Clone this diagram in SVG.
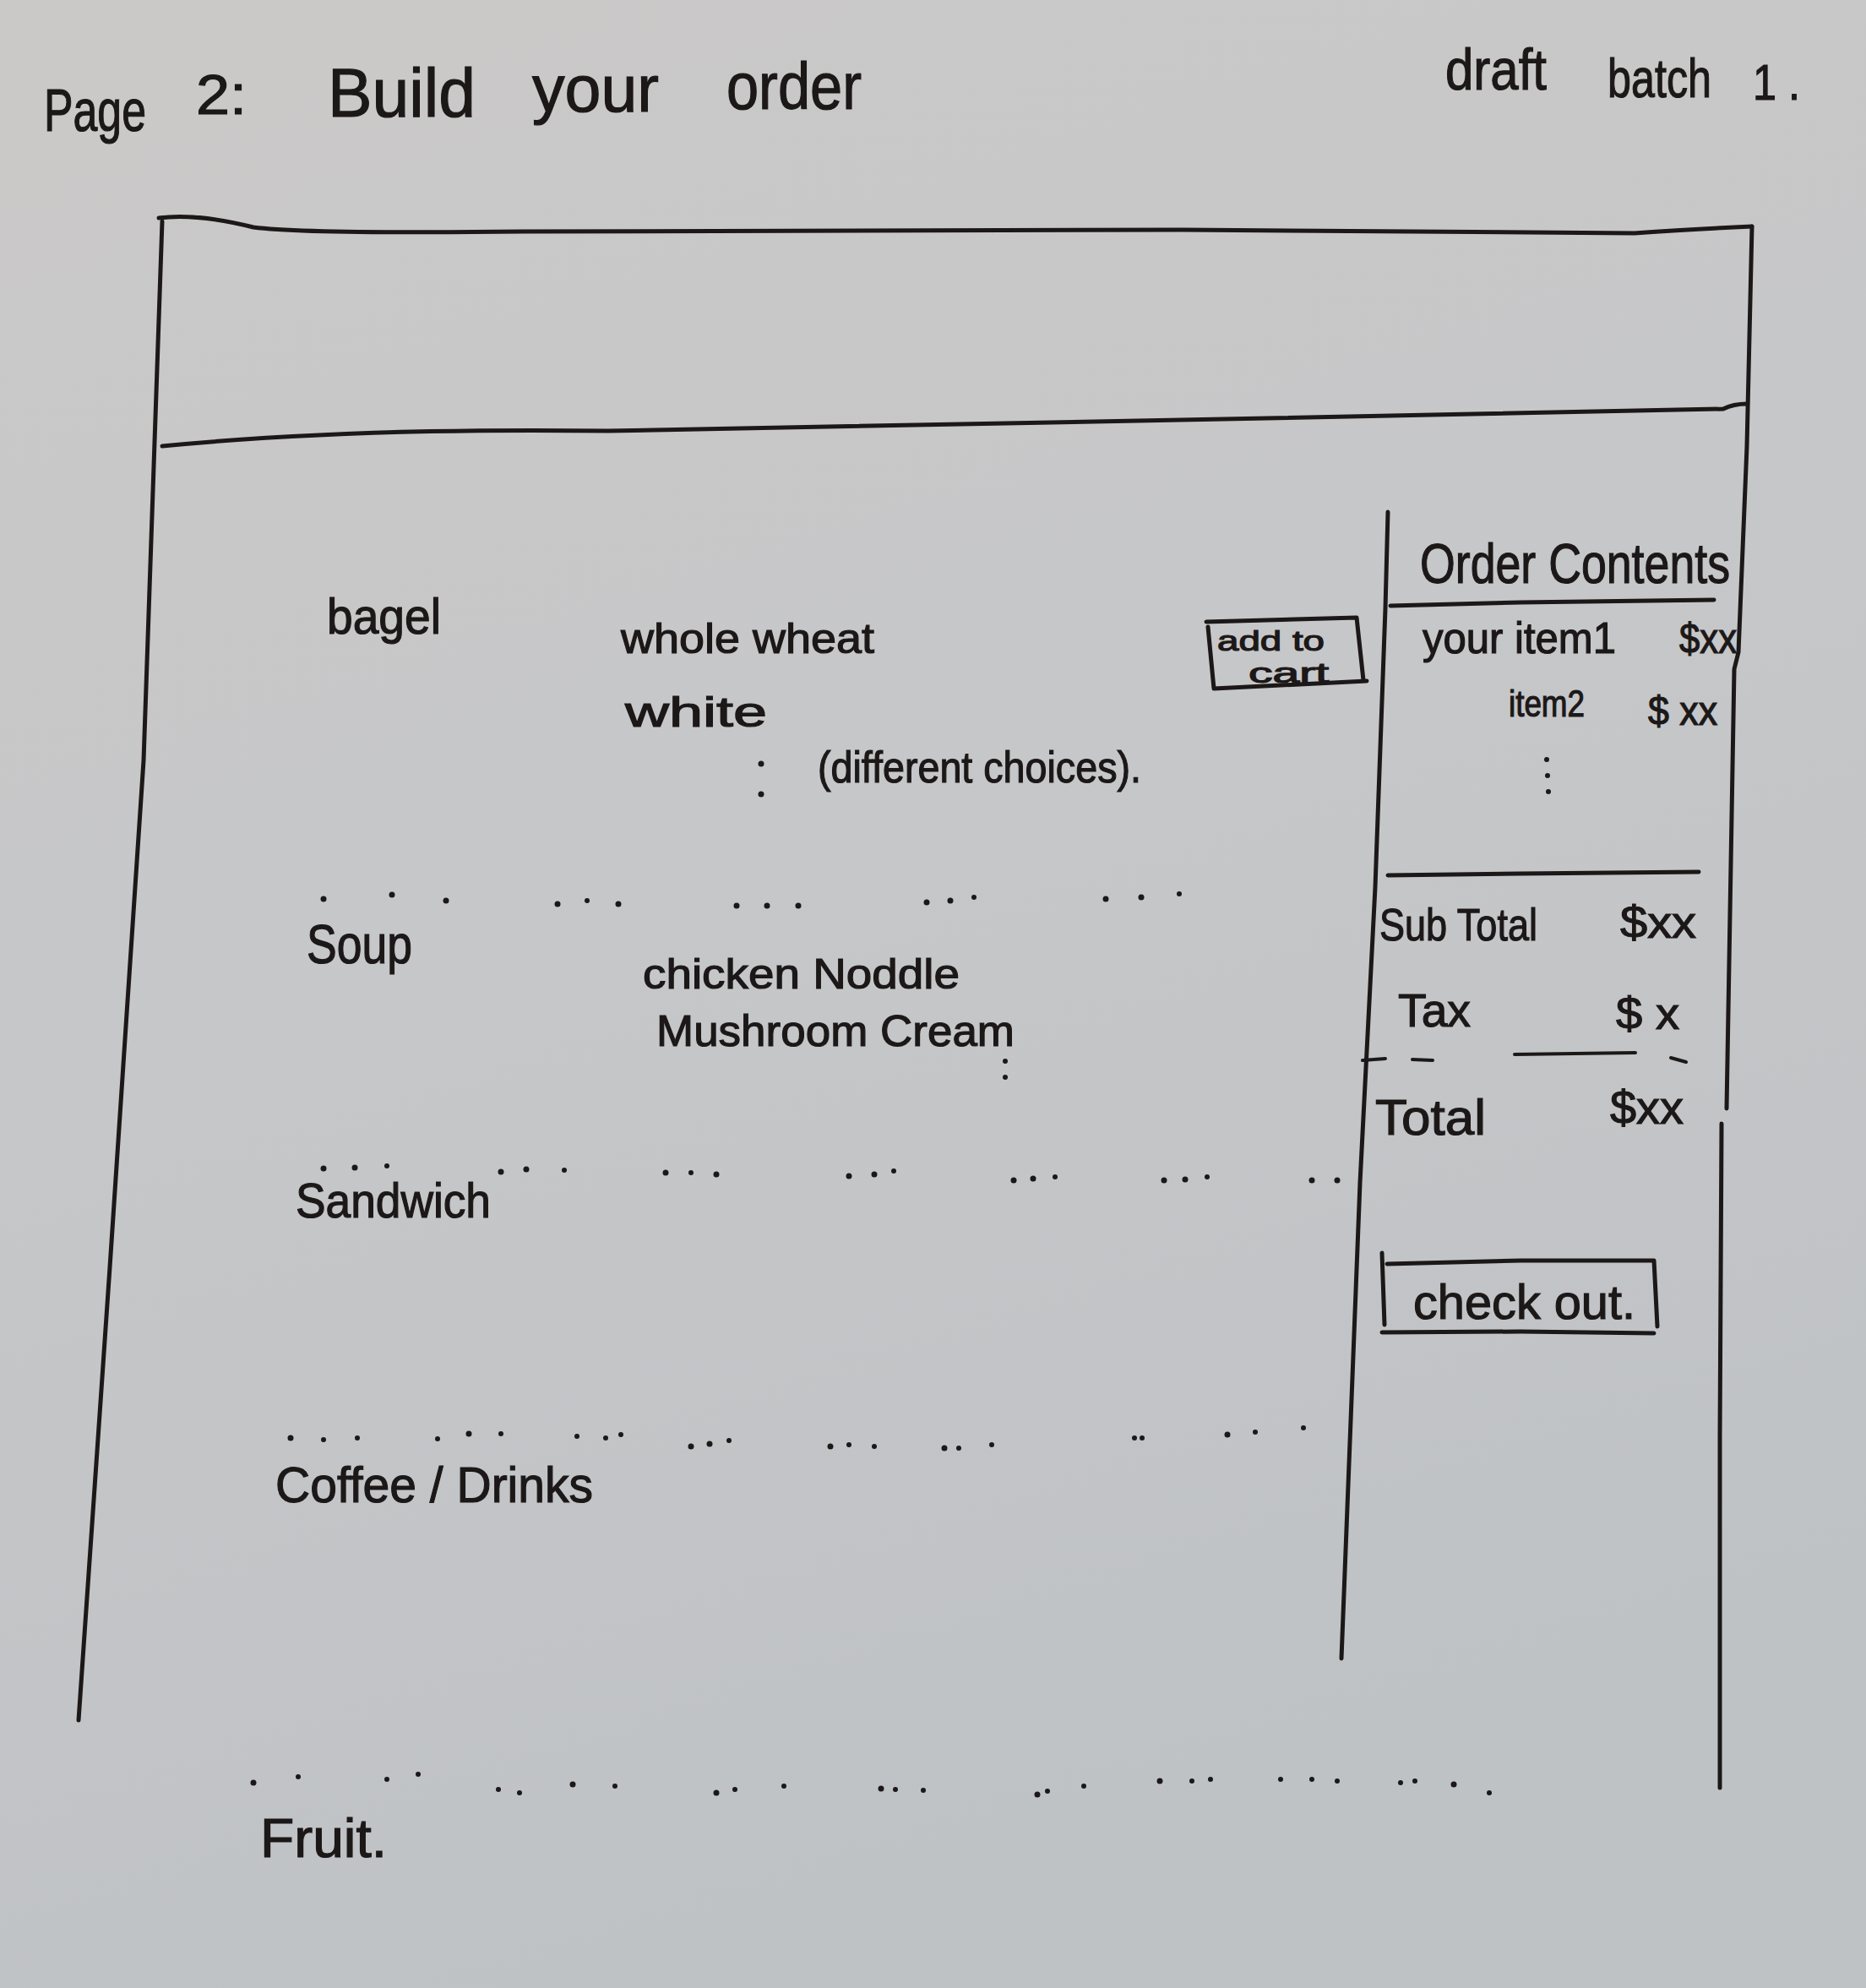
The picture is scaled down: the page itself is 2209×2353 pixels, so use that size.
<svg xmlns="http://www.w3.org/2000/svg" width="2209" height="2353" viewBox="0 0 2209 2353">
  <defs>
    <linearGradient id="paper" x1="0" y1="0" x2="0.3" y2="1">
      <stop offset="0" stop-color="#cbc9c8"/>
      <stop offset="0.5" stop-color="#c6c7c9"/>
      <stop offset="1" stop-color="#bfc2c5"/>
    </linearGradient>
    <style>
      .ink { fill: none; stroke: #1c1818; stroke-width: 5; stroke-linecap: round; stroke-linejoin: round; }
      .thin { stroke-width: 4; }
      .hand { font-family: "Liberation Sans", "DejaVu Sans", sans-serif; fill: #1c1818; stroke: #1c1818; stroke-width: 1.2; }
      .dot { fill: #1c1818; }
    </style>
  </defs>

  <!-- paper -->
  <rect x="0" y="0" width="2209" height="2353" fill="url(#paper)"/>

  <!-- page heading -->
  <g id="title">
    <text class="hand" x="52" y="155" font-size="70" textLength="121" lengthAdjust="spacingAndGlyphs">Page</text>
    <text class="hand" x="232" y="135" font-size="66" textLength="60" lengthAdjust="spacingAndGlyphs">2:</text>
    <text class="hand" x="388" y="138" font-size="82" textLength="175" lengthAdjust="spacingAndGlyphs">Build</text>
    <text class="hand" x="630" y="132" font-size="78" textLength="150" lengthAdjust="spacingAndGlyphs">your</text>
    <text class="hand" x="860" y="129" font-size="78" textLength="160" lengthAdjust="spacingAndGlyphs">order</text>
  </g>

  <g id="version-note">
    <text class="hand" x="1711" y="106" font-size="68" textLength="120" lengthAdjust="spacingAndGlyphs">draft</text>
    <text class="hand" x="1903" y="115" font-size="64" textLength="123" lengthAdjust="spacingAndGlyphs">batch</text>
    <text class="hand" x="2075" y="118" font-size="60" textLength="56" lengthAdjust="spacingAndGlyphs">1 .</text>
  </g>

  <!-- browser window outline with header bar -->
  <g id="page-frame">
    <path class="ink" d="M188,258 Q232,252 300,269 Q360,277 620,274 L1400,272 L1935,276 Q1990,272 2074,268"/>
    <path class="ink" d="M192,262 L170,900 L130,1500 L93,2036"/>
    <path class="ink" d="M2074,268 L2068,528 L2058,772 L2053,792 L2044,1312"/>
    <path class="ink" d="M2038,1330 L2036,1700 L2036,2116"/>
  </g>

  <g id="header-bar">
    <path class="ink" d="M192,528 Q420,506 720,510 L1500,495 L2040,484 Q2052,478 2068,478"/>
  </g>

  <!-- menu column -->
  <g id="menu-bagel">
    <text class="hand" x="387" y="750" font-size="60" textLength="135" lengthAdjust="spacingAndGlyphs">bagel</text>
    <text class="hand" x="735" y="773" font-size="50" textLength="300" lengthAdjust="spacingAndGlyphs">whole wheat</text>
    <text class="hand" x="740" y="860" font-size="50" textLength="168" lengthAdjust="spacingAndGlyphs">white</text>
    <circle class="dot" cx="901" cy="904" r="3.5"/>
    <circle class="dot" cx="901" cy="940" r="3.5"/>
    <text class="hand" x="968" y="926" font-size="52" textLength="383" lengthAdjust="spacingAndGlyphs">(different choices).</text>
  </g>

  <g id="add-to-cart">
    <path class="ink" d="M1428,736 L1606,731 L1614,805"/>
    <path class="ink" d="M1430,742 L1437,815 L1618,806"/>
    <text class="hand" x="1441" y="770" font-size="34" textLength="127" lengthAdjust="spacingAndGlyphs">add to</text>
    <text class="hand" x="1478" y="808" font-size="34" textLength="95" lengthAdjust="spacingAndGlyphs">cart</text>
  </g>

  <g id="divider-1">
    <circle class="dot" cx="383" cy="1064" r="3.5"/>
    <circle class="dot" cx="464" cy="1059" r="3.5"/>
    <circle class="dot" cx="528" cy="1066" r="3.5"/>
    <circle class="dot" cx="660" cy="1070" r="3.5"/>
    <circle class="dot" cx="695" cy="1066" r="3"/>
    <circle class="dot" cx="732" cy="1070" r="3.5"/>
    <circle class="dot" cx="872" cy="1072" r="3.5"/>
    <circle class="dot" cx="908" cy="1072" r="3.5"/>
    <circle class="dot" cx="945" cy="1072" r="3.5"/>
    <circle class="dot" cx="1097" cy="1068" r="3.5"/>
    <circle class="dot" cx="1125" cy="1066" r="3.5"/>
    <circle class="dot" cx="1153" cy="1062" r="3"/>
    <circle class="dot" cx="1309" cy="1064" r="3.5"/>
    <circle class="dot" cx="1351" cy="1062" r="3.5"/>
    <circle class="dot" cx="1396" cy="1058" r="3"/>
  </g>

  <g id="menu-soup">
    <text class="hand" x="363" y="1140" font-size="64" textLength="125" lengthAdjust="spacingAndGlyphs">Soup</text>
    <text class="hand" x="761" y="1170" font-size="50" textLength="375" lengthAdjust="spacingAndGlyphs">chicken Noddle</text>
    <text class="hand" x="777" y="1238" font-size="52" textLength="424" lengthAdjust="spacingAndGlyphs">Mushroom Cream</text>
    <circle class="dot" cx="1190" cy="1256" r="3"/>
    <circle class="dot" cx="1190" cy="1275" r="3"/>
  </g>

  <g id="divider-2">
    <circle class="dot" cx="383" cy="1383" r="3.5"/>
    <circle class="dot" cx="420" cy="1382" r="3.5"/>
    <circle class="dot" cx="458" cy="1380" r="3"/>
    <circle class="dot" cx="593" cy="1387" r="3.5"/>
    <circle class="dot" cx="623" cy="1384" r="3.5"/>
    <circle class="dot" cx="668" cy="1385" r="3"/>
    <circle class="dot" cx="788" cy="1388" r="3.5"/>
    <circle class="dot" cx="818" cy="1388" r="3"/>
    <circle class="dot" cx="848" cy="1390" r="3.5"/>
    <circle class="dot" cx="1005" cy="1392" r="3.5"/>
    <circle class="dot" cx="1035" cy="1390" r="3.5"/>
    <circle class="dot" cx="1058" cy="1386" r="3"/>
    <circle class="dot" cx="1200" cy="1397" r="3.5"/>
    <circle class="dot" cx="1223" cy="1395" r="3.5"/>
    <circle class="dot" cx="1249" cy="1393" r="3"/>
    <circle class="dot" cx="1378" cy="1397" r="3.5"/>
    <circle class="dot" cx="1403" cy="1396" r="3.5"/>
    <circle class="dot" cx="1429" cy="1393" r="3"/>
    <circle class="dot" cx="1553" cy="1397" r="3.5"/>
    <circle class="dot" cx="1583" cy="1397" r="3.5"/>
  </g>

  <g id="menu-sandwich">
    <text class="hand" x="350" y="1441" font-size="58" textLength="231" lengthAdjust="spacingAndGlyphs">Sandwich</text>
  </g>

  <g id="divider-3">
    <circle class="dot" cx="344" cy="1702" r="3.5"/>
    <circle class="dot" cx="383" cy="1704" r="3"/>
    <circle class="dot" cx="423" cy="1702" r="3"/>
    <circle class="dot" cx="518" cy="1703" r="3"/>
    <circle class="dot" cx="555" cy="1697" r="3.5"/>
    <circle class="dot" cx="593" cy="1697" r="3"/>
    <circle class="dot" cx="683" cy="1700" r="3"/>
    <circle class="dot" cx="717" cy="1702" r="3"/>
    <circle class="dot" cx="735" cy="1698" r="3"/>
    <circle class="dot" cx="818" cy="1712" r="3.5"/>
    <circle class="dot" cx="840" cy="1709" r="3.5"/>
    <circle class="dot" cx="863" cy="1705" r="3"/>
    <circle class="dot" cx="983" cy="1712" r="3.5"/>
    <circle class="dot" cx="1005" cy="1710" r="3"/>
    <circle class="dot" cx="1035" cy="1712" r="3"/>
    <circle class="dot" cx="1118" cy="1714" r="3.5"/>
    <circle class="dot" cx="1135" cy="1714" r="3"/>
    <circle class="dot" cx="1174" cy="1710" r="3"/>
    <circle class="dot" cx="1343" cy="1702" r="3"/>
    <circle class="dot" cx="1352" cy="1702" r="3"/>
    <circle class="dot" cx="1453" cy="1698" r="3.5"/>
    <circle class="dot" cx="1486" cy="1695" r="3"/>
    <circle class="dot" cx="1543" cy="1690" r="3"/>
  </g>

  <g id="menu-coffee">
    <text class="hand" x="326" y="1778" font-size="60" textLength="376" lengthAdjust="spacingAndGlyphs">Coffee / Drinks</text>
  </g>

  <g id="divider-4">
    <circle class="dot" cx="300" cy="2110" r="3.5"/>
    <circle class="dot" cx="353" cy="2103" r="3"/>
    <circle class="dot" cx="458" cy="2106" r="3"/>
    <circle class="dot" cx="495" cy="2100" r="3"/>
    <circle class="dot" cx="590" cy="2118" r="3"/>
    <circle class="dot" cx="615" cy="2122" r="3"/>
    <circle class="dot" cx="678" cy="2112" r="3.5"/>
    <circle class="dot" cx="728" cy="2114" r="3"/>
    <circle class="dot" cx="848" cy="2122" r="3.5"/>
    <circle class="dot" cx="870" cy="2118" r="3"/>
    <circle class="dot" cx="928" cy="2114" r="3"/>
    <circle class="dot" cx="1043" cy="2117" r="3.5"/>
    <circle class="dot" cx="1060" cy="2118" r="3"/>
    <circle class="dot" cx="1093" cy="2119" r="3"/>
    <circle class="dot" cx="1228" cy="2124" r="3.5"/>
    <circle class="dot" cx="1240" cy="2120" r="3"/>
    <circle class="dot" cx="1283" cy="2114" r="3"/>
    <circle class="dot" cx="1373" cy="2108" r="3.5"/>
    <circle class="dot" cx="1411" cy="2108" r="3"/>
    <circle class="dot" cx="1433" cy="2106" r="3"/>
    <circle class="dot" cx="1516" cy="2106" r="3"/>
    <circle class="dot" cx="1553" cy="2106" r="3"/>
    <circle class="dot" cx="1583" cy="2108" r="3"/>
    <circle class="dot" cx="1658" cy="2110" r="3"/>
    <circle class="dot" cx="1675" cy="2108" r="3"/>
    <circle class="dot" cx="1721" cy="2112" r="3.5"/>
    <circle class="dot" cx="1763" cy="2122" r="3"/>
  </g>

  <g id="menu-fruit">
    <text class="hand" x="308" y="2198" font-size="64" textLength="150" lengthAdjust="spacingAndGlyphs">Fruit.</text>
  </g>

  <!-- order summary side panel -->
  <g id="order-panel">
    <path class="ink" d="M1643,606 L1640,720 L1628,1050 L1610,1400 L1588,1963"/>
    <text class="hand" x="1681" y="690" font-size="66" textLength="367" lengthAdjust="spacingAndGlyphs">Order Contents</text>
    <path class="ink" d="M1646,717 L1800,713 L2029,710"/>
    <text class="hand" x="1684" y="773" font-size="52" textLength="229" lengthAdjust="spacingAndGlyphs">your item1</text>
    <text class="hand" x="1988" y="773" font-size="50" textLength="68" lengthAdjust="spacingAndGlyphs">$xx</text>
    <text class="hand" x="1786" y="848" font-size="44" textLength="90" lengthAdjust="spacingAndGlyphs">item2</text>
    <text class="hand" x="1951" y="858" font-size="48" textLength="82" lengthAdjust="spacingAndGlyphs">$ xx</text>
    <circle class="dot" cx="1831" cy="899" r="3"/>
    <circle class="dot" cx="1832" cy="918" r="3"/>
    <circle class="dot" cx="1833" cy="937" r="3"/>
    <path class="ink" d="M1643,1036 L1800,1034 L2011,1032"/>
    <text class="hand" x="1633" y="1113" font-size="54" textLength="187" lengthAdjust="spacingAndGlyphs">Sub Total</text>
    <text class="hand" x="1918" y="1110" font-size="54" textLength="90" lengthAdjust="spacingAndGlyphs">$xx</text>
    <text class="hand" x="1655" y="1215" font-size="56" textLength="86" lengthAdjust="spacingAndGlyphs">Tax</text>
    <text class="hand" x="1913" y="1218" font-size="54" textLength="75" lengthAdjust="spacingAndGlyphs">$ x</text>
    <path class="ink thin" d="M1613,1255 L1640,1253"/>
    <path class="ink thin" d="M1672,1254 L1696,1255"/>
    <path class="ink thin" d="M1793,1248 L1936,1246"/>
    <path class="ink thin" d="M1978,1252 L1996,1257"/>
    <text class="hand" x="1628" y="1343" font-size="60" textLength="131" lengthAdjust="spacingAndGlyphs">Total</text>
    <text class="hand" x="1906" y="1330" font-size="56" textLength="87" lengthAdjust="spacingAndGlyphs">$xx</text>
  </g>

  <g id="check-out">
    <path class="ink" d="M1636,1483 L1639,1568"/>
    <path class="ink" d="M1642,1496 L1800,1492 L1958,1492 L1962,1570"/>
    <path class="ink" d="M1636,1577 L1800,1576 L1958,1578"/>
    <text class="hand" x="1673" y="1561" font-size="58" textLength="263" lengthAdjust="spacingAndGlyphs">check out.</text>
  </g>
</svg>
